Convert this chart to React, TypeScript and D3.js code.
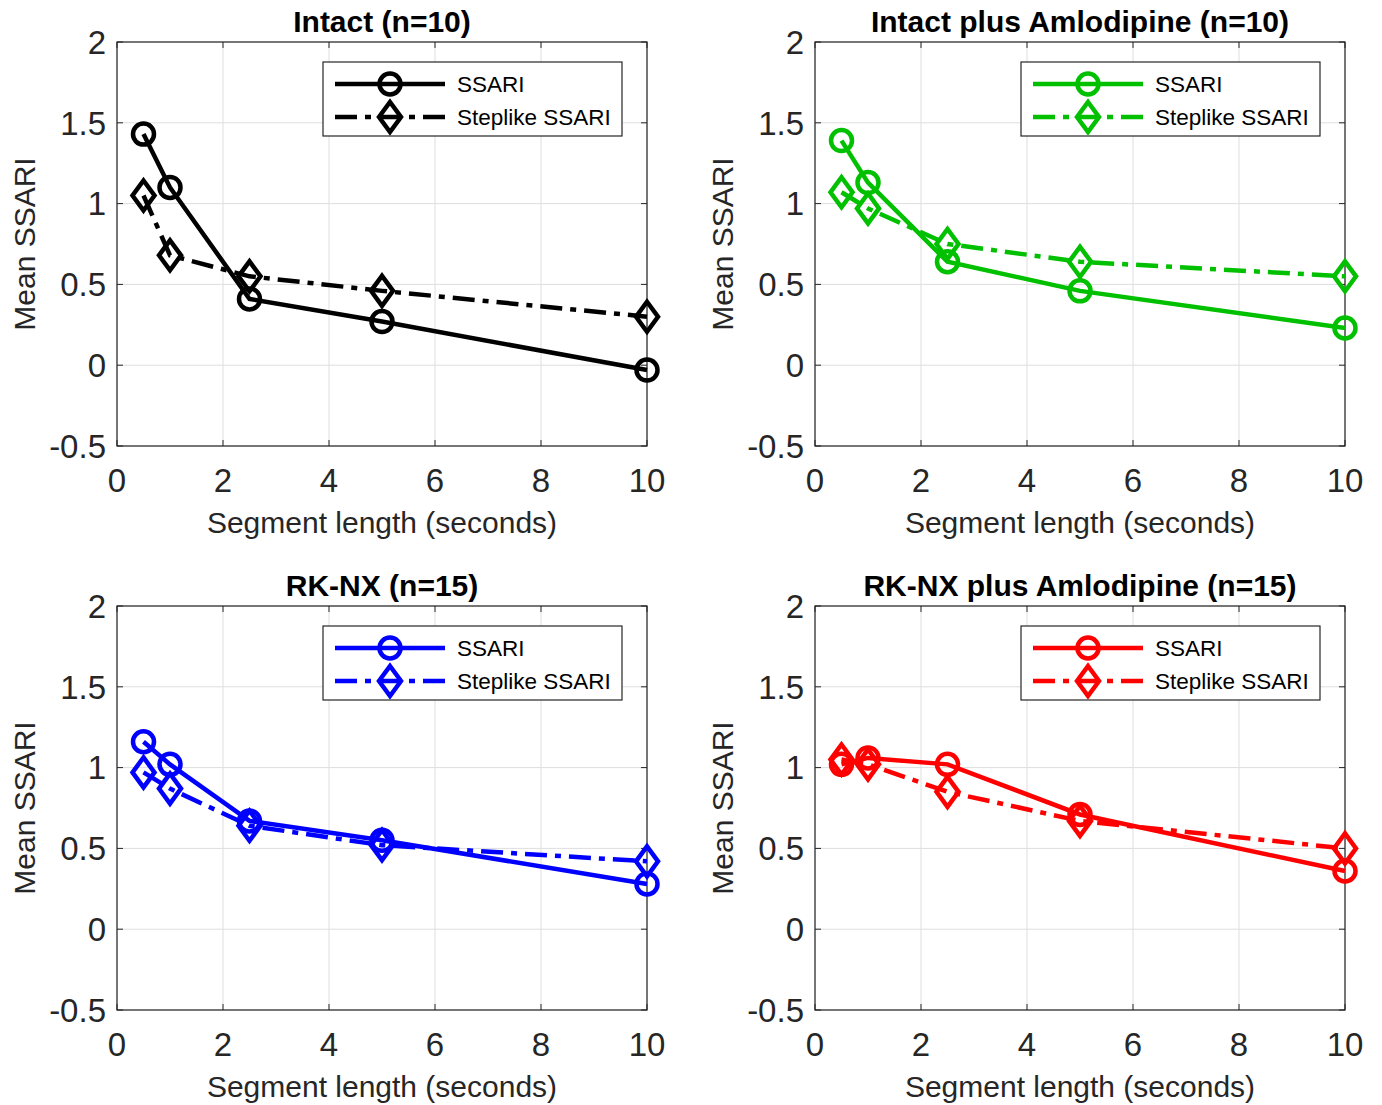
import React from "react";
import * as d3 from "d3";

const segmentLengths = [0.5, 1, 2.5, 5, 10];

const panelTitles = [
  "Intact (n=10)",
  "Intact plus Amlodipine (n=10)",
  "RK-NX (n=15)",
  "RK-NX plus Amlodipine (n=15)",
];
const panelColors = ["#000000", "#00c000", "#0000ff", "#ff0000"];

const intactSSARI = [1.43, 1.1, 0.41, 0.27, -0.03];
const intactStep = [1.05, 0.68, 0.55, 0.46, 0.3];
const intactAmloSSARI = [1.39, 1.13, 0.64, 0.46, 0.23];
const intactAmloStep = [1.07, 0.97, 0.75, 0.64, 0.55];
const rknxSSARI = [1.16, 1.02, 0.67, 0.55, 0.28];
const rknxStep = [0.97, 0.87, 0.64, 0.52, 0.42];
const rknxAmloSSARI = [1.02, 1.06, 1.02, 0.71, 0.36];
const rknxAmloStep = [1.05, 1.02, 0.85, 0.67, 0.5];

const ssariSeries = [intactSSARI, intactAmloSSARI, rknxSSARI, rknxAmloSSARI];
const stepSeries = [intactStep, intactAmloStep, rknxStep, rknxAmloStep];

const xTicks = [0, 2, 4, 6, 8, 10];
const yTicks = [-0.5, 0, 0.5, 1, 1.5, 2];
const xLabel = "Segment length (seconds)";
const yLabel = "Mean SSARI";
const legendLabels = ["SSARI", "Steplike SSARI"];

const W = 530;
const H = 404;
const panelOrigins = [
  [117, 42],
  [815, 42],
  [117, 606],
  [815, 606],
];

const FONT = "'Liberation Sans', Arial, Helvetica, sans-serif";
const LW = 4.5;
const DASH = "22,8,6,8";
const R = 10.5;

function Diamond({ cx, cy, color }: { cx: number; cy: number; color: string }) {
  const hw = 11;
  const hh = 15;
  const d = `M${cx},${cy - hh}L${cx + hw},${cy}L${cx},${cy + hh}L${cx - hw},${cy}Z`;
  return <path d={d} fill="none" stroke={color} strokeWidth={LW} strokeLinejoin="miter" />;
}

function Panel({ idx }: { idx: number }) {
  const [ox, oy] = panelOrigins[idx];
  const color = panelColors[idx];
  const x = d3.scaleLinear().domain([0, 10]).range([0, W]);
  const y = d3.scaleLinear().domain([-0.5, 2]).range([H, 0]);
  const line = d3
    .line<number>()
    .x((_, i) => x(segmentLengths[i]))
    .y((v) => y(v));
  const s1 = ssariSeries[idx];
  const s2 = stepSeries[idx];
  const tickLen = 6;
  const axisColor = "#262626";
  const gridColor = "#dedede";

  const lx = 206;
  const ly = 20;
  const lw = 299;
  const lh = 74;

  return (
    <g transform={`translate(${ox},${oy})`}>
      <rect x={0} y={0} width={W} height={H} fill="#fff" />
      {xTicks.map((t) => (
        <line key={"gx" + t} x1={x(t)} x2={x(t)} y1={0} y2={H} stroke={gridColor} strokeWidth={1} />
      ))}
      {yTicks.map((t) => (
        <line key={"gy" + t} x1={0} x2={W} y1={y(t)} y2={y(t)} stroke={gridColor} strokeWidth={1} />
      ))}
      {xTicks.map((t) => (
        <g key={"tx" + t}>
          <line x1={x(t)} x2={x(t)} y1={H} y2={H - tickLen} stroke={axisColor} strokeWidth={1} />
          <line x1={x(t)} x2={x(t)} y1={0} y2={tickLen} stroke={axisColor} strokeWidth={1} />
          <text
            x={x(t)}
            y={H + 46}
            textAnchor="middle"
            fontFamily={FONT}
            fontSize={33}
            fill="#262626"
          >
            {t}
          </text>
        </g>
      ))}
      {yTicks.map((t) => (
        <g key={"ty" + t}>
          <line x1={0} x2={tickLen} y1={y(t)} y2={y(t)} stroke={axisColor} strokeWidth={1} />
          <line x1={W} x2={W - tickLen} y1={y(t)} y2={y(t)} stroke={axisColor} strokeWidth={1} />
          <text
            x={-11}
            y={y(t)}
            dy="0.36em"
            textAnchor="end"
            fontFamily={FONT}
            fontSize={33}
            fill="#262626"
          >
            {t}
          </text>
        </g>
      ))}
      <rect x={0} y={0} width={W} height={H} fill="none" stroke={axisColor} strokeWidth={1.2} />
      <text
        x={W / 2}
        y={H + 87}
        textAnchor="middle"
        fontFamily={FONT}
        fontSize={30}
        fill="#262626"
      >
        {xLabel}
      </text>
      <text
        transform={`translate(${-82},${H / 2}) rotate(-90)`}
        textAnchor="middle"
        fontFamily={FONT}
        fontSize={30}
        fill="#262626"
      >
        {yLabel}
      </text>
      <text
        x={W / 2}
        y={-10}
        textAnchor="middle"
        fontFamily={FONT}
        fontSize={30}
        fontWeight="bold"
        fill="#000"
      >
        {panelTitles[idx]}
      </text>

      <path d={line(s2) || ""} fill="none" stroke={color} strokeWidth={LW} strokeDasharray={DASH} />
      <path d={line(s1) || ""} fill="none" stroke={color} strokeWidth={LW} />
      {s2.map((v, i) => (
        <Diamond key={"d" + i} cx={x(segmentLengths[i])} cy={y(v)} color={color} />
      ))}
      {s1.map((v, i) => (
        <circle key={"c" + i} cx={x(segmentLengths[i])} cy={y(v)} r={R} fill="none" stroke={color} strokeWidth={LW} />
      ))}

      <g transform={`translate(${lx},${ly})`}>
        <rect x={0} y={0} width={lw} height={lh} fill="#fff" stroke="#262626" strokeWidth={1.2} />
        <line x1={12} x2={122} y1={22} y2={22} stroke={color} strokeWidth={LW} />
        <circle cx={67} cy={22} r={R} fill="none" stroke={color} strokeWidth={LW} />
        <line x1={12} x2={122} y1={55} y2={55} stroke={color} strokeWidth={LW} strokeDasharray={DASH} />
        <Diamond cx={67} cy={55} color={color} />
        <text x={134} y={22} dy="0.36em" fontFamily={FONT} fontSize={22.5} fill="#000">
          {legendLabels[0]}
        </text>
        <text x={134} y={55} dy="0.36em" fontFamily={FONT} fontSize={22.5} fill="#000">
          {legendLabels[1]}
        </text>
      </g>
    </g>
  );
}

export default function App() {
  return (
    <svg
      width={1382}
      height={1105}
      style={{ position: "absolute", left: 0, top: 0, background: "#fff" }}
    >
      <rect x={0} y={0} width={1382} height={1105} fill="#fff" />
      {[0, 1, 2, 3].map((i) => (
        <Panel key={i} idx={i} />
      ))}
    </svg>
  );
}
